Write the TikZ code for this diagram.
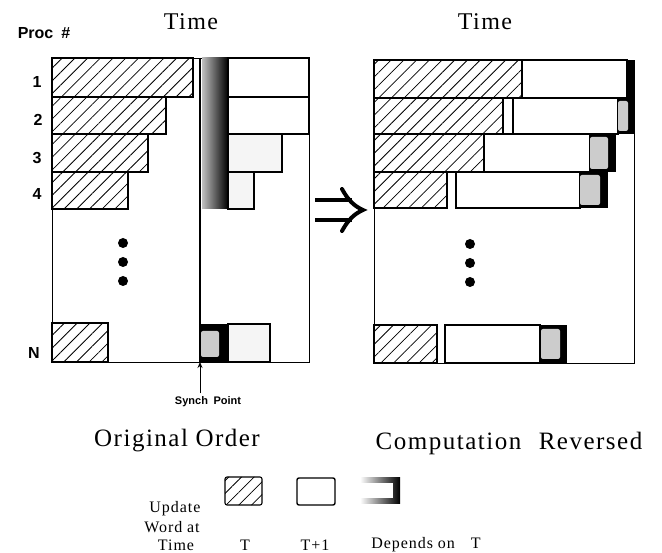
\documentclass[tikz,border=0pt]{standalone}
\usepackage{fontspec}
\setmainfont{Liberation Serif}
\setsansfont{Liberation Sans}
\newfontfamily\spacedserif[LetterSpace=6]{Liberation Serif}
\usepackage{tikz}
\usetikzlibrary{positioning,arrows.meta,patterns.meta}

\begin{document}
\begin{tikzpicture}[
  x=1pt,y=-1pt,
  frame/.style={draw,line width=1.4pt},
  bar/.style={draw,line width=1.1pt},
  hatch/.style={bar,pattern={Lines[angle=45,distance=9pt,line width=0.8pt]}},
  later/.style={bar,fill=white},
  laterlt/.style={bar,fill=gray!8},
  blob/.style={fill=gray!40,rounded corners=2pt},
  procnum/.style={font=\sffamily\bfseries\fontsize{16}{16}\selectfont},
  heading/.style={font=\spacedserif\fontsize{24}{24}\selectfont},
  caption/.style={font=\spacedserif\fontsize{25}{25}\selectfont},
  legend/.style={font=\spacedserif\fontsize{16}{16}\selectfont,inner sep=0pt},
  arr/.style={-{Stealth[length=6pt,width=5pt]},line width=1pt},
  thickstroke/.style={line width=4pt},
]
\useasboundingbox (0,0) rectangle (662,553);

% Headings
\node[procnum] (proc)  at (44,33)  {Proc\enspace\#};
\node[heading] (time1) at (191,22) {Time};
\node[heading] (time2) at (485,22) {Time};

% Processor numbers
\node[procnum] (p1) at (37,82)  {1};
\node[procnum] (p2) at (38,120) {2};
\node[procnum] (p3) at (37,158) {3};
\node[procnum] (p4) at (37,194) {4};
\node[procnum] (pn) at (34,353) {N};

% Left: original order
\node[frame,anchor=north west,minimum width=257pt,minimum height=304pt,inner sep=0pt] (orig) at (52,58) {};
\draw[frame] (200,58) -- (200,362);
\draw[hatch] (52,58)  rectangle (193,97);
\draw[hatch] (52,97)  rectangle (166,134);
\draw[hatch] (52,134) rectangle (148,172);
\draw[hatch] (52,172) rectangle (128,209);
\draw[hatch] (52,323) rectangle (108,362);
\shade[left color=gray!50,middle color=black!75,right color=black] (202,58) rectangle (228,209);
\draw[later]   (228,58)  rectangle (309,97);
\draw[later]   (228,97)  rectangle (309,134);
\draw[laterlt] (228,134) rectangle (282,172);
\draw[laterlt] (228,172) rectangle (254,209);
\fill (200,324) rectangle (228,362);
\fill[blob] (201,331) rectangle (219,357);
\draw[laterlt] (228,324) rectangle (270,362);
\fill (123,243) circle (5);
\fill (123,262) circle (5);
\fill (123,281) circle (5);

% Synch point marker
\coordinate (syncpt) at (200,362);
\node[font=\sffamily\bfseries\fontsize{11}{11}\selectfont] (synch) at (208,402) {Synch\enspace Point};
\draw[arr] (synch.north -| syncpt) -- (syncpt);

% Right: computation reversed
\node[frame,anchor=north west,minimum width=260pt,minimum height=303pt,inner sep=0pt] (rev) at (374,60) {};
\draw[hatch] (374,60)  rectangle (522,98);
\draw[later] (522,60)  rectangle (627,98);
\fill        (627,60)  rectangle (634,98);
\draw[hatch] (374,98)  rectangle (503,134);
\draw[later] (503,98)  rectangle (513,134);
\draw[later] (513,98)  rectangle (618,134);
\fill        (618,98)  rectangle (634,134);
\fill[blob]  (618,101) rectangle (628,131);
\draw[hatch] (374,134) rectangle (484,172);
\draw[later] (484,134) rectangle (590,172);
\fill        (590,134) rectangle (616,172);
\fill[blob]  (590,137) rectangle (608,169);
\draw[hatch] (374,172) rectangle (447,208);
\draw[later] (456,172) rectangle (580,208);
\fill        (580,172) rectangle (608,208);
\fill[blob]  (580,175) rectangle (600,205);
\draw[hatch] (374,325) rectangle (437,363);
\draw[later] (445,325) rectangle (540,363);
\fill        (540,325) rectangle (567,363);
\fill[blob]  (541,329) rectangle (560,359);
\fill (470,244) circle (5);
\fill (470,263) circle (5);
\fill (470,282) circle (5);

% Transformation arrow (double-stroke implies sign)
\draw[thickstroke] (315,200) -- (352,200);
\draw[thickstroke] (315,220) -- (352,220);
\draw[thickstroke,line cap=round] (342,189) .. controls (348,200) and (354,206) .. (363,210)
  .. controls (354,214) and (348,220) .. (342,231);

% Captions
\node[caption] (capleft)  at (177,441) {Original\hspace{0.3em}Order};
\node[caption] (capright) at (509,443) {Computation\hspace{0.7em}Reversed};

% Legend
\draw[hatch,rounded corners=2pt] (225,477) rectangle (262,505);
\draw[later,line width=1.4pt,rounded corners=2pt] (297,478) rectangle (335,505);
\shade[left color=white,right color=black] (360,478) rectangle (400,503);
\fill[white] (356,483) rectangle (393,498);
\node[legend] (lgupd)  at (175,509) {Update};
\node[legend] (lgword) at (172,527) {Word\hspace{0.3em}at};
\node[legend] (lgtime) at (176,545) {Time};
\node[legend] (lgt)    at (245,545) {T};
\node[legend] (lgt1)   at (315,545) {T+1};
\node[legend] (lgdep)  at (426,545) {Depends\hspace{0.3em}on\hspace{1em}T};
\end{tikzpicture}
\end{document}
